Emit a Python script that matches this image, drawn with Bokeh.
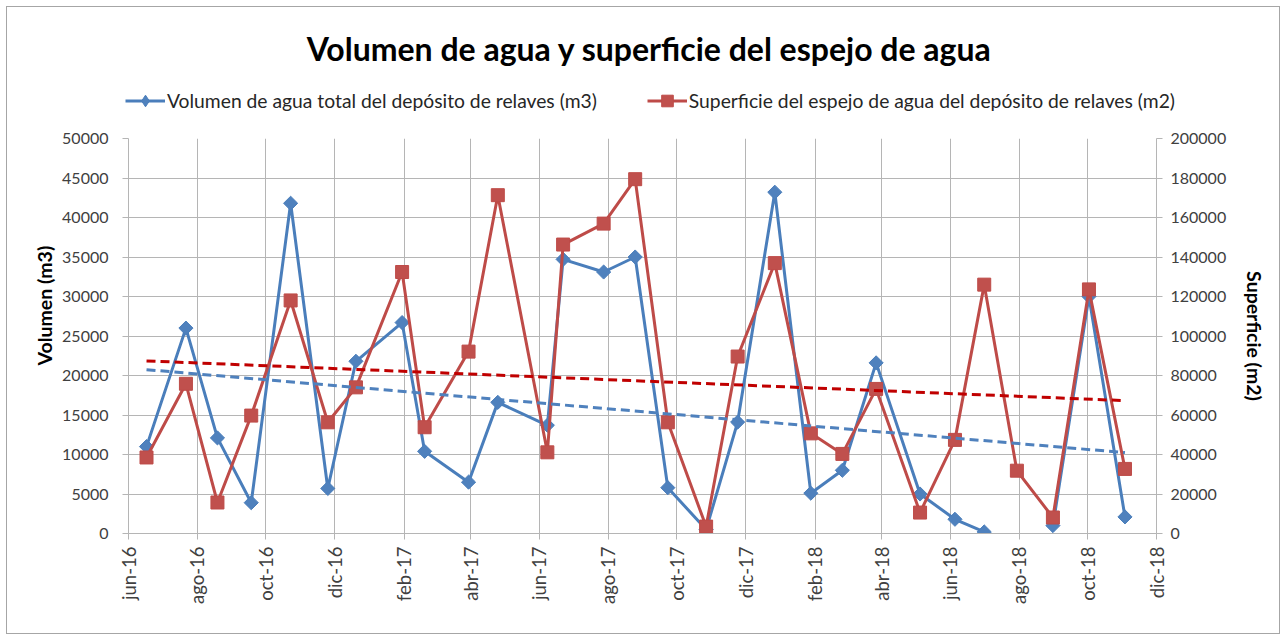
import numpy as np
import pandas as pd
from bokeh.plotting import figure
from bokeh.layouts import column
from bokeh.models import (LinearAxis, Range1d, FixedTicker, Legend, LegendItem, Label, Title,
                          CustomJSTickFormatter, BasicTickFormatter)
from bokeh.embed import file_html
from bokeh.resources import INLINE

nan = float("nan")

# ---- data ----
fechas = ["2016-06-17", "2016-07-22", "2016-08-19", "2016-09-18", "2016-10-23", "2016-11-25",
          "2016-12-20", "2017-01-30", "2017-02-19", "2017-03-30", "2017-04-25", "2017-06-08",
          "2017-06-22", "2017-07-28", "2017-08-25", "2017-09-23", "2017-10-27", "2017-11-24",
          "2017-12-27", "2018-01-28", "2018-02-25", "2018-03-27", "2018-05-05", "2018-06-05",
          "2018-07-01", "2018-07-30", "2018-08-31", "2018-10-02", "2018-11-03"]
volumen = [11000, 26000, 12100, 3900, 41800, 5700, 21800, 26700, 10400, 6500, 16600, 13700,
           34700, 33100, 35000, 5800, 500, 14100, 43200, 5100, 8000, 21600, 5000, 1800,
           200, nan, 1000, 30000, 2100]
superficie = [38500, 75800, 15700, 59700, 118000, 56300, 74000, 132400, 53800, 92100, 171300,
              41100, 146300, 156900, 179400, 56300, 3500, 89600, 136900, 50700, 40300, 73200,
              10600, 47400, 126000, 31800, 8100, 123600, 32700]
tick_fechas = ["2016-06-01", "2016-08-01", "2016-10-01", "2016-12-01", "2017-02-01", "2017-04-01",
               "2017-06-01", "2017-08-01", "2017-10-01", "2017-12-01", "2018-02-01", "2018-04-01",
               "2018-06-01", "2018-08-01", "2018-10-01", "2018-12-01"]
tick_labels = ["jun-16", "ago-16", "oct-16", "dic-16", "feb-17", "abr-17", "jun-17", "ago-17",
               "oct-17", "dic-17", "feb-18", "abr-18", "jun-18", "ago-18", "oct-18", "dic-18"]
vol_ticks = list(range(0, 50001, 5000))
sup_ticks = list(range(0, 200001, 20000))

titulo = "Volumen de agua y superficie del espejo de agua"
serie_vol = "Volumen de agua total del depósito de relaves (m3)"
serie_sup = "Superficie del espejo de agua del depósito de relaves (m2)"
eje_vol = "Volumen (m3)"
eje_sup = "Superficie (m2)"


def to_ms(d):
    td = pd.to_datetime(d) - pd.Timestamp("1970-01-01")
    return (td // pd.Timedelta(milliseconds=1)).to_numpy().astype(float)


x = to_ms(fechas)
tx = to_ms(tick_fechas)
vol = np.array(volumen, dtype=float)
sup = np.array(superficie, dtype=float)

FONT = "Lato"
BLUE = "#4A7EBB"
RED = "#BE4B48"
BLUE_F = "#4F81BD"
RED_F = "#C0504D"
GRID = "#B5B5B5"

W = 1272
HH = 115           # header (title + legend)
H = 511            # main chart
ML, MR, MT, MB = 121, 123, 16, 100

# ---------------- header: title + legend ----------------
h = figure(width=W, height=HH, output_backend="svg", toolbar_location=None,
           x_range=Range1d(0, W), y_range=Range1d(0, HH), min_border=0)
try:
    h.title = None
except Exception:
    pass
if "frame_align" in h.properties():
    h.frame_align = False
h.axis.visible = False
h.grid.visible = False
h.outline_line_color = None
h.border_fill_color = "white"

h.add_layout(Label(x=W / 2 + 6, y=HH - 41, text=titulo, text_align="center",
                   text_baseline="middle", text_font=FONT, text_font_style="bold",
                   text_font_size="32px", text_color="black"))

# legend proxies: the real series, which lie far outside this header's ranges
hl1 = h.line(x, vol, line_color=BLUE, line_width=3)
hs1 = h.scatter(x, vol, marker="diamond", fill_color=BLUE_F, line_color=BLUE)
hl2 = h.line(x, sup, line_color=RED, line_width=3)
hs2 = h.scatter(x, sup, marker="square", fill_color=RED_F, line_color=RED)

legend = Legend(items=[LegendItem(label=serie_vol, renderers=[hl1, hs1]),
                       LegendItem(label=serie_sup, renderers=[hl2, hs2])],
                orientation="horizontal", location=(114, 3.5), glyph_width=40,
                glyph_height=29, label_standoff=2, spacing=50, label_text_font=FONT,
                label_text_font_size="19.3px", label_text_color="#262626",
                background_fill_alpha=0, border_line_alpha=0, margin=0, padding=4)
h.add_layout(legend, "center")

# ---------------- main chart ----------------
p = figure(width=W, height=H, output_backend="svg", toolbar_location=None,
           x_range=Range1d(tx[0], tx[-1]), y_range=Range1d(0, 50000),
           min_border_left=ML, min_border_right=MR, min_border_top=MT, min_border_bottom=MB)
try:
    p.title = None
except Exception:
    pass
if "frame_align" in p.properties():
    p.frame_align = False
p.outline_line_color = None
p.background_fill_color = "white"
p.border_fill_color = "white"
p.extra_y_ranges = {"sup": Range1d(0, 200000)}

xt = FixedTicker(ticks=list(tx))
p.xaxis.ticker = xt
p.xgrid.ticker = xt
p.xaxis.formatter = CustomJSTickFormatter(args=dict(ts=list(tx), labs=tick_labels), code="""
let best = -1, bd = Infinity;
for (let i = 0; i < ts.length; i++) { const d = Math.abs(ts[i] - tick); if (d < bd) { bd = d; best = i; } }
return bd < 86400000 ? labs[best] : "";
""")
p.xaxis.major_label_orientation = np.pi / 2

yt = FixedTicker(ticks=vol_ticks)
p.yaxis.ticker = yt
p.ygrid.ticker = yt
p.yaxis.formatter = BasicTickFormatter(use_scientific=False)

ra = LinearAxis(y_range_name="sup", ticker=FixedTicker(ticks=sup_ticks),
                formatter=BasicTickFormatter(use_scientific=False), axis_label=eje_sup)
if "axis_label_orientation" in ra.properties():
    ra.axis_label_orientation = "vertical"
p.add_layout(ra, "right")

for ax in p.axis:
    ax.axis_line_color = GRID
    ax.major_tick_line_color = GRID
    ax.major_tick_out = 6
    ax.major_tick_in = 0
    ax.minor_tick_line_color = None
    ax.major_label_text_font = FONT
    ax.major_label_text_font_size = "16px"
    ax.major_label_text_color = "#404040"
    ax.axis_label_text_font = FONT
    ax.axis_label_text_font_style = "bold"
    ax.axis_label_text_font_size = "19.5px"
    ax.axis_label_text_color = "black"

p.xaxis.major_label_text_font_size = "18.5px"
p.xaxis.major_label_standoff = 7
p.yaxis.major_label_standoff = 14
ra.major_label_standoff = 8
ra.axis_label_standoff = 14

# left axis title (placed above the centre, as in the reference)
p.add_layout(Title(text=eje_vol, align="left", offset=168, standoff=8, text_font=FONT,
                   text_font_style="bold", text_font_size="19.5px", text_color="black"), "left")

p.grid.grid_line_color = GRID
p.grid.grid_line_width = 1

# series
p.line(x, vol, line_color=BLUE, line_width=3)
p.scatter(x, vol, marker="square", angle=np.pi / 4, size=10, fill_color=BLUE_F, line_color=BLUE)
p.line(x, sup, line_color=RED, line_width=3, y_range_name="sup")
p.scatter(x, sup, marker="square", size=13, fill_color=RED_F, line_color=RED, y_range_name="sup")

# linear trend lines (least squares on the date values)
m = ~np.isnan(vol)
xc = x.mean()
c1 = np.polyfit(x[m] - xc, vol[m], 1)
c2 = np.polyfit(x - xc, sup, 1)
xe1 = np.array([x[m][0], x[m][-1]])
xe2 = np.array([x[0], x[-1]])
p.line(xe1, np.polyval(c1, xe1 - xc), line_color=BLUE_F, line_width=3, line_dash="9 5")
p.line(xe2, np.polyval(c2, xe2 - xc), line_color="#C00000", line_width=3, line_dash="9 5",
       y_range_name="sup")

lay = column(h, p, spacing=0)
lay.styles = {"border": "1px solid #A6A6A6", "margin": "6px 0 0 6px", "width": "fit-content"}

open("out.html", "w").write(file_html(lay, INLINE))
